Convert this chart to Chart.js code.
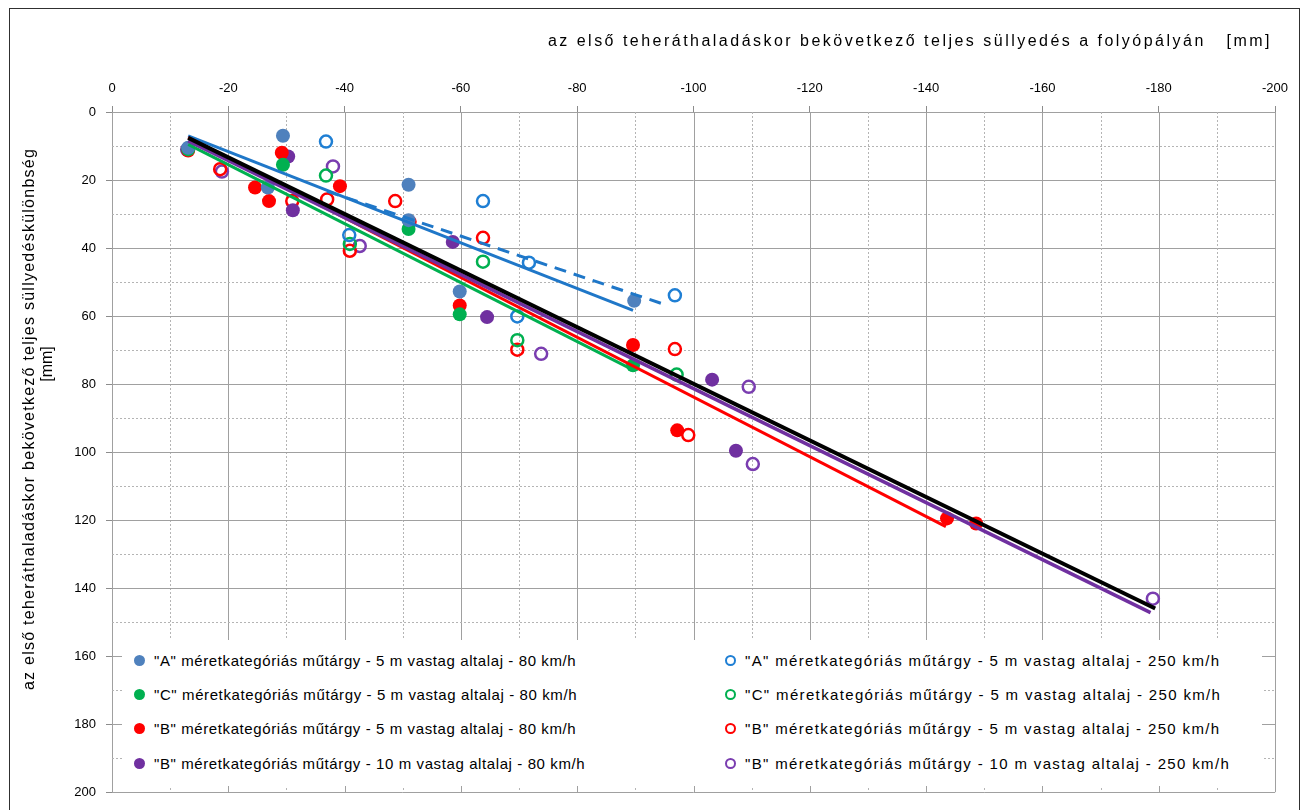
<!DOCTYPE html>
<html>
<head>
<meta charset="utf-8">
<script src="https://cdn.jsdelivr.net/npm/chart.js@4.4.1/dist/chart.umd.min.js"></script>
<style>
  body { margin: 0; background: #fff; }
  #wrap { position: relative; width: 1307px; height: 810px; overflow: hidden; }
  #legend { position: absolute; left: 122px; top: 640px; width: 1140px; height: 146px; background: #fff;
            font: 15px "Liberation Sans", Arial, sans-serif; color: #000; }
  .item { position: absolute; height: 18px; display: flex; align-items: center; white-space: nowrap; }
  .dot { width: 11px; height: 11px; border-radius: 50%; box-sizing: border-box; margin-right: 9px; }
  .c1 { letter-spacing: 0.6px; }
  .c2 { letter-spacing: 1.35px; }
</style>
</head>
<body>
<div id="wrap">
  <canvas id="chart" width="1307" height="810"></canvas>
  <div id="legend"></div>
</div>
<script>
// mért pontok: x = süllyedés a folyópályán, y = süllyedéskülönbség [mm]
const xA80  = [-13.1, -29.4, -26.8, -51.0, -51.0, -59.8, -89.8];
const yA80  = [ 10.5,   7.0,  22.2,  21.4,  31.8,  52.8,  55.5];
const xC80  = [-13.1, -29.4, -51.0, -59.8, -89.6];
const yC80  = [ 11.0,  15.5,  34.4,  59.5,  74.5];
const xB80  = [-13.1, -29.2, -24.6, -27.0, -39.2, -51.2, -59.8, -89.6, -97.2, -143.6, -148.6];
const yB80  = [ 11.3,  12.0,  22.2,  26.2,  21.8,  32.3,  56.9,  68.5,  93.6,  119.5,  121.0];
const xB10_80 = [-12.9, -30.3, -31.1, -58.6, -64.5, -103.2, -107.3];
const yB10_80 = [ 11.1,  13.1,  28.9,  38.2,  60.3,   78.7,   99.6];

const xA250 = [-36.8, -40.8, -63.8, -71.7, -69.7, -96.8];
const yA250 = [  8.7,  36.2,  26.2,  44.3,  60.1,  53.9];
const xC250 = [-36.8, -40.9, -63.8, -69.7, -97.1];
const yC250 = [ 18.7,  38.8,  44.0,  67.1,  77.2];
const xB250 = [-18.6, -31.0, -37.0, -48.7, -40.9, -63.8, -69.7, -96.8, -99.1];
const yB250 = [ 16.8,  26.2,  25.7,  26.2,  40.8,  37.0,  69.9,  69.7,  95.0];
const xB10_250 = [-18.9, -38.0, -42.6, -73.8, -109.5, -110.2, -179.0];
const yB10_250 = [ 17.5,  16.0,  39.4,  71.1,   80.8,  103.5,  143.1];

// trendvonalak végpontjai
const trendA80X  = [-13.1, -89.6];  const trendA80Y  = [7.0, 58.3];
const trendA250X = [-37.0, -94.5];  const trendA250Y = [23.3, 56.3];
const trendCX    = [-13.1, -89.6];  const trendCY    = [9.5, 75.8];
const trendBX    = [-13.1, -143.4]; const trendBY    = [7.5, 121.9];
const trendB10X  = [-13.1, -178.6]; const trendB10Y  = [8.5, 147.2];
const trendAllX  = [-13.1, -179.4]; const trendAllY  = [7.6, 146.0];

const xTicks = [0, -20, -40, -60, -80, -100, -120, -140, -160, -180, -200];
const yTicks = [0, 20, 40, 60, 80, 100, 120, 140, 160, 180, 200];

const xTitle = 'az első teheráthaladáskor bekövetkező teljes süllyedés a folyópályán   [mm]';
const yTitle = 'az első teheráthaladáskor bekövetkező teljes süllyedéskülönbség';
const yUnit = '[mm]';

const names80 = [
  '"A" méretkategóriás műtárgy - 5 m vastag altalaj - 80 km/h',
  '"C" méretkategóriás műtárgy - 5 m vastag altalaj - 80 km/h',
  '"B" méretkategóriás műtárgy - 5 m vastag altalaj - 80 km/h',
  '"B" méretkategóriás műtárgy - 10 m vastag altalaj - 80 km/h'
];
const names250 = [
  '"A" méretkategóriás műtárgy - 5 m vastag altalaj - 250 km/h',
  '"C" méretkategóriás műtárgy - 5 m vastag altalaj - 250 km/h',
  '"B" méretkategóriás műtárgy - 5 m vastag altalaj - 250 km/h',
  '"B" méretkategóriás műtárgy - 10 m vastag altalaj - 250 km/h'
];
const colFilled = ['#4f81bd', '#00b050', '#ff0000', '#7030a0'];
const colHollow = ['#1f7fd4', '#00b050', '#ff0000', '#7a3db0'];

const pts = (xs, ys) => xs.map((x, i) => ({ x: x, y: ys[i] }));

const filledSets = [[xA80, yA80], [xC80, yC80], [xB80, yB80], [xB10_80, yB10_80]];
const hollowSets = [[xA250, yA250], [xC250, yC250], [xB250, yB250], [xB10_250, yB10_250]];

const trendSets = [
  { xs: trendA80X,  ys: trendA80Y,  color: '#1f77c8', width: 3 },
  { xs: trendA250X, ys: trendA250Y, color: '#1f77c8', width: 3, dash: [12, 8] },
  { xs: trendCX,    ys: trendCY,    color: '#00b050', width: 3 },
  { xs: trendBX,    ys: trendBY,    color: '#ff0000', width: 3 },
  { xs: trendB10X,  ys: trendB10Y,  color: '#7030a0', width: 3.5 },
  { xs: trendAllX,  ys: trendAllY,  color: '#000000', width: 4 }
];

const datasets = [];
// trendvonalak legfelül (kisebb order = később rajzolva)
trendSets.slice().reverse().forEach(t => {
  datasets.push({
    data: pts(t.xs, t.ys), showLine: true, pointRadius: 0, fill: false,
    borderColor: t.color, borderWidth: t.width, borderDash: t.dash || [], order: 0
  });
});
hollowSets.forEach((s, i) => {
  datasets.push({
    label: names250[i], data: pts(s[0], s[1]), pointRadius: 6, pointHoverRadius: 6,
    pointBackgroundColor: 'rgba(255,255,255,0)', pointBorderColor: colHollow[i], pointBorderWidth: 2.5,
    showLine: false, order: 2
  });
});
filledSets.forEach((s, i) => {
  datasets.push({
    label: names80[i], data: pts(s[0], s[1]), pointRadius: 7, pointHoverRadius: 7,
    pointBackgroundColor: colFilled[i], pointBorderColor: colFilled[i], pointBorderWidth: 0,
    showLine: false, order: 1
  });
});

// rácsvonalak: 20-asával folytonos, 10-esével pontozott
const gridPlugin = {
  id: 'gridPlugin',
  beforeDatasetsDraw(chart) {
    const { ctx, chartArea: a, scales } = chart;
    ctx.save();
    ctx.lineWidth = 1;
    for (let v = 0; v <= 200; v += 10) {
      const major = v % 20 === 0;
      ctx.setLineDash(major ? [] : [2, 2]);
      ctx.strokeStyle = major ? '#a0a0a0' : '#b4b4b4';
      const px = Math.round(scales.x.getPixelForValue(-v)) + 0.5;
      ctx.beginPath(); ctx.moveTo(px, a.top); ctx.lineTo(px, a.bottom); ctx.stroke();
      const py = Math.round(scales.y.getPixelForValue(v)) + 0.5;
      ctx.beginPath(); ctx.moveTo(a.left, py); ctx.lineTo(a.right, py); ctx.stroke();
    }
    ctx.restore();
  }
};

// tengelycímek és keret
const titlePlugin = {
  id: 'titlePlugin',
  afterDraw(chart) {
    const ctx = chart.ctx;
    ctx.save();
    ctx.fillStyle = '#000';
    ctx.font = '16px "Liberation Sans", Arial, sans-serif';
    ctx.textBaseline = 'middle';

    let w = ctx.measureText(xTitle).width;
    ctx.letterSpacing = ((724 - w) / xTitle.length).toFixed(2) + 'px';
    ctx.textAlign = 'right';
    ctx.fillText(xTitle, 1272, 42);

    ctx.letterSpacing = '0px';
    w = ctx.measureText(yTitle).width;
    ctx.translate(30, 419);
    ctx.rotate(-Math.PI / 2);
    ctx.textAlign = 'center';
    ctx.letterSpacing = ((542 - w) / yTitle.length).toFixed(2) + 'px';
    ctx.fillText(yTitle, 0, 0);
    ctx.letterSpacing = '0px';
    ctx.fillText(yUnit, 55, 18);
    ctx.restore();

    ctx.save();
    ctx.strokeStyle = '#303030';
    ctx.lineWidth = 1;
    ctx.strokeRect(9.5, 8.5, 1290, 830);
    ctx.restore();
  }
};

new Chart(document.getElementById('chart'), {
  type: 'scatter',
  data: { datasets: datasets },
  options: {
    responsive: false,
    animation: false,
    layout: { padding: { left: 12, right: 32, top: 10, bottom: 13 } },
    plugins: { legend: { display: false }, tooltip: { enabled: false } },
    scales: {
      x: {
        type: 'linear', position: 'top', min: -200, max: 0, reverse: true,
        afterBuildTicks: s => { s.ticks = xTicks.map(v => ({ value: v })); },
        ticks: { color: '#000', font: { family: '"Liberation Sans", Arial', size: 13 }, padding: 10,
                 callback: v => String(v) },
        grid: { drawOnChartArea: false, tickLength: 6, color: '#8c8c8c' },
        border: { color: '#8c8c8c' },
        afterFit: s => { s.height = 102; }
      },
      y: {
        type: 'linear', position: 'left', min: 0, max: 200, reverse: true,
        afterBuildTicks: s => { s.ticks = yTicks.map(v => ({ value: v })); },
        ticks: { color: '#000', font: { family: '"Liberation Sans", Arial', size: 13 }, padding: 10,
                 callback: v => String(v) },
        grid: { drawOnChartArea: false, tickLength: 6, color: '#8c8c8c' },
        border: { color: '#8c8c8c' },
        afterFit: s => { s.width = 100; }
      }
    }
  },
  plugins: [gridPlugin, titlePlugin]
});

// jelmagyarázat
const legend = document.getElementById('legend');
const rows = [20, 54, 88, 123];
function addItem(name, color, hollow, left, top, cls) {
  const el = document.createElement('div');
  el.className = 'item ' + cls;
  el.style.left = left + 'px';
  el.style.top = (top - 9) + 'px';
  const dot = document.createElement('span');
  dot.className = 'dot';
  if (hollow) { dot.style.border = '2px solid ' + color; }
  else { dot.style.background = color; }
  const txt = document.createElement('span');
  txt.textContent = name;
  el.appendChild(dot);
  el.appendChild(txt);
  legend.appendChild(el);
}
names80.forEach((n, i) => addItem(n, colFilled[i], false, 12, rows[i], 'c1'));
names250.forEach((n, i) => addItem(n, colHollow[i], true, 603, rows[i], 'c2'));
</script>
</body>
</html>
